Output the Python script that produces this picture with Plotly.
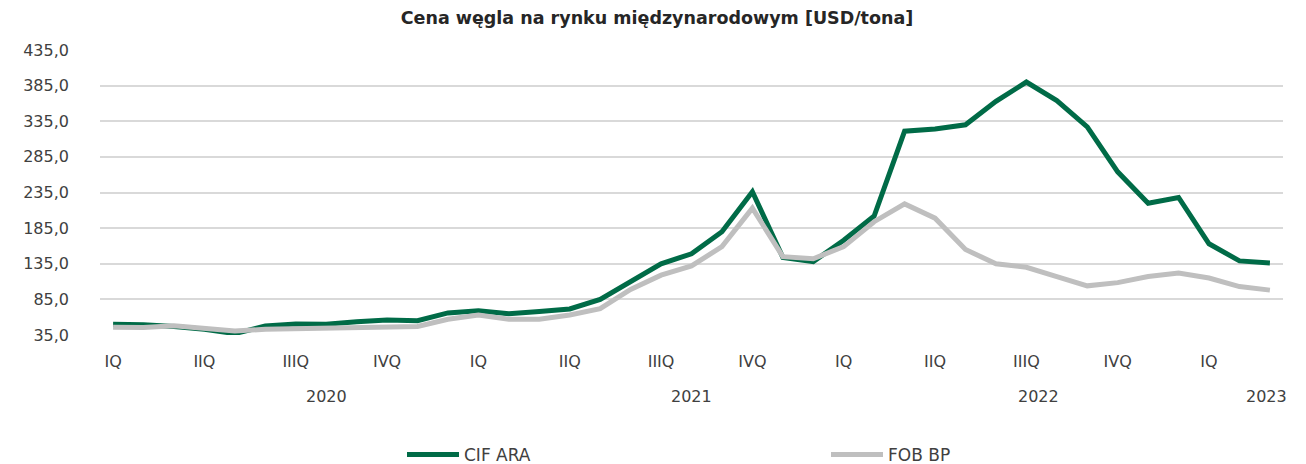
import plotly.graph_objects as go

months = list(range(39))
quarter_labels = ["IQ", "IIQ", "IIIQ", "IVQ"] * 3 + ["IQ"]
quarter_pos = [0, 3, 6, 9, 12, 15, 18, 21, 24, 27, 30, 33, 36]
year_labels = ["2020", "2021", "2022", "2023"]
year_pos = [7, 19, 30.4, 37.9]

cif_ara = [50, 49.5, 47, 43, 37, 47.6, 50.4, 50, 53.7, 56, 55, 66, 69, 65, 68, 71.5,
           85, 110, 135, 149, 180, 236, 144, 138, 168, 202, 321, 324, 330, 363, 390,
           364, 327, 264, 220, 228, 163, 139, 136]
fob_bp = [46, 45.5, 48, 45, 40.5, 43, 44, 44, 46, 47.6, 47, 57, 63, 57, 57, 63,
          72, 99, 119, 132, 159, 213, 145, 142, 159, 194, 219, 199, 155, 135, 130,
          117, 104, 108.5, 117, 122, 115, 103, 98]

FONT = "DejaVu Sans"
TXT = "#404040"

# page body has an 8px default margin; figure is sized to fit the window
W, H = 1298, 456

fig = go.Figure()
fig.add_trace(go.Scatter(x=months, y=cif_ara, mode="lines", name="CIF ARA",
                         line=dict(color="#006B47", width=5)))
fig.add_trace(go.Scatter(x=months, y=fob_bp, mode="lines", name="FOB BP",
                         line=dict(color="#BFBFBF", width=5)))

for lab, pos in zip(year_labels, year_pos):
    fig.add_annotation(x=pos, y=0, xref="x", yref="paper", text=lab, showarrow=False,
                       yanchor="middle", yshift=-61,
                       font=dict(family=FONT, size=16, color=TXT))

fig.update_layout(
    width=W, height=H,
    margin=dict(l=92, r=23, t=42, b=129),
    paper_bgcolor="white", plot_bgcolor="white",
    separators=", ",
    title=dict(text="<b>Cena węgla na rynku międzynarodowym [USD/tona]</b>",
               x=0.5, xanchor="center", y=(H - 10) / H, yanchor="middle",
               font=dict(family=FONT, size=17.5, color="#262626")),
    xaxis=dict(range=[-0.43, 38.43], tickmode="array", tickvals=quarter_pos,
               ticktext=quarter_labels, showgrid=False, zeroline=False, showline=False,
               ticks="", ticklabelstandoff=15,
               tickfont=dict(family=FONT, size=16, color=TXT)),
    yaxis=dict(range=[35, 435], tick0=35, dtick=50, tickformat=".1f",
               showgrid=True, gridcolor="#D9D9D9", gridwidth=2, zeroline=False,
               showline=False, ticks="", ticklabelstandoff=30,
               tickfont=dict(family=FONT, size=16, color=TXT)),
    showlegend=True,
    legend=dict(orientation="h", xref="container", yref="container",
                x=394 / W, xanchor="left", y=9 / H, yanchor="middle",
                entrywidth=357, entrywidthmode="pixels", itemwidth=52,
                font=dict(family=FONT, size=17, color=TXT)),
)

fig.write_html("out.html")
